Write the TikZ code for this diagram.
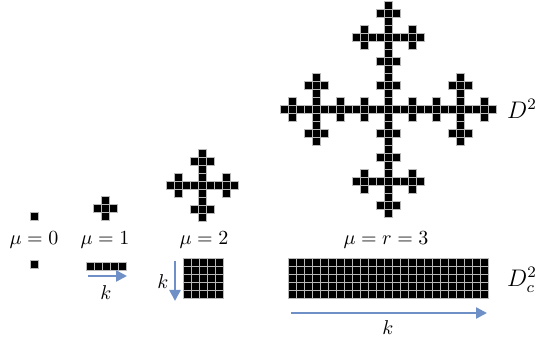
\documentclass[tikz,border=0pt]{standalone}
\usetikzlibrary{arrows.meta}
\definecolor{kblue}{RGB}{110,144,198}
\tikzset{
  cell/.style={fill=black, draw=gray!55, line width=0.4pt},
  karrow/.style={-{Triangle[length=5.5pt,width=5.5pt]}, line width=1.2pt, color=kblue}
}
% the five directions of one Vicsek step
\newcommand{\vdirs}{0/0,1/0,-1/0,0/1,0/-1}
% one cell of 8px centred at (#1,#2)
\newcommand{\cellat}[2]{\draw[cell] ({#1-4},{#2-4}) rectangle ++(8,8);}

\begin{document}
\begin{tikzpicture}[x=0.5pt,y=-0.5pt]
\useasboundingbox (0,0) rectangle (536,340);

% mu = 0
\cellat{34}{216}
\cellat{34}{264}
\node (mu0) at (34,240) {$\mu=0$};

% mu = 1
\foreach \ax/\ay in \vdirs
  {\cellat{105+8*\ax}{208+8*\ay}}
\foreach \i in {0,...,4}
  {\cellat{90+8*\i}{266}}
\node (mu1) at (105,240) {$\mu=1$};
\coordinate (k1s) at (88,276);
\coordinate (k1e) at (127,276);
\draw[karrow] (k1s) -- (k1e);
\node (k1) at (106,293) {$k$};

% mu = 2
\foreach \ax/\ay in \vdirs
  \foreach \bx/\by in \vdirs
    {\cellat{202+8*(\ax+3*\bx)}{185+8*(\ay+3*\by)}}
\foreach \i in {0,...,4}
  \foreach \j in {0,...,4}
    {\cellat{187+8*\i}{262+8*\j}}
\node (mu2) at (204,240) {$\mu=2$};
\coordinate (k2s) at (175,261);
\coordinate (k2e) at (175,301);
\draw[karrow] (k2s) -- (k2e);
\node (k2) at (163,282) {$k$};

% mu = r = 3
\foreach \ax/\ay in \vdirs
  \foreach \bx/\by in \vdirs
    \foreach \cx/\cy in \vdirs
      {\cellat{388+8*(\ax+3*\bx+9*\cx)}{109+8*(\ay+3*\by+9*\cy)}}
\foreach \i in {0,...,24}
  \foreach \j in {0,...,4}
    {\cellat{292+8*\i}{262+8*\j}}
\node (mu3) at (386,240) {$\mu=r=3$};
\coordinate (k3s) at (291,313);
\coordinate (k3e) at (487,313);
\draw[karrow] (k3s) -- (k3e);
\node (k3) at (388,328) {$k$};

\node[font=\large] (D) at (522,109) {$D^2$};
\node[font=\large] (Dc) at (522,280) {$D^2_c$};
\end{tikzpicture}
\end{document}
